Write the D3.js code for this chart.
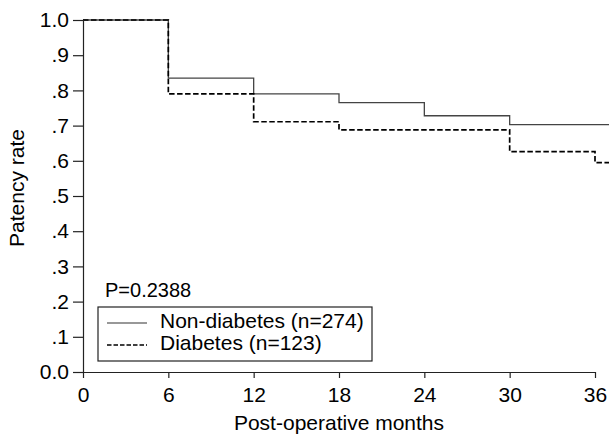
<!DOCTYPE html>
<meta charset="utf-8">
<style>
body { margin: 0; background: #fff; }
svg { font-family: Arial, "Liberation Sans", sans-serif; }
</style>
<svg width="609" height="441"></svg>
<script src="https://d3js.org/d3.v7.min.js"></script>
<script>

var monthTicks = [0, 6, 12, 18, 24, 30, 36];
var rateTicks = [0, .1, .2, .3, .4, .5, .6, .7, .8, .9, 1.0];
var rateLabels = ["0.0", ".1", ".2", ".3", ".4", ".5", ".6", ".7", ".8", ".9", "1.0"];

// step points (month, rate)
var nonDiabetesMonths = [0, 6, 12, 18, 24, 30, 37];
var nonDiabetesRate   = [1.0, .835, .79, .765, .728, .703, .703];
var diabetesMonths = [0, 6, 12, 18, 30, 36, 37];
var diabetesRate   = [1.0, .79, .711, .688, .626, .595, .595];

var pValue = "P=0.2388";
var legendLabels = ["Non-diabetes (n=274)", "Diabetes (n=123)"];

var svg = d3.select("svg"),
    margin = {top: 20, right: 14, bottom: 69, left: 83},
    width = +svg.attr("width"),
    height = +svg.attr("height");

var x = d3.scaleLinear().domain([0, 36]).range([margin.left, 595]);
var y = d3.scaleLinear().domain([0, 1]).range([height - margin.bottom, margin.top]);

var line = d3.line()
    .curve(d3.curveStepAfter)
    .x(function(d) { return x(d[0]); })
    .y(function(d) { return y(d[1]); });

var nonData = d3.zip(nonDiabetesMonths, nonDiabetesRate);
var diaData = d3.zip(diabetesMonths, diabetesRate);

svg.append("path")
    .datum(nonData)
    .attr("fill", "none")
    .attr("stroke", "#444")
    .attr("stroke-width", 1.3)
    .attr("d", line);

svg.append("path")
    .datum(diaData)
    .attr("fill", "none")
    .attr("stroke", "#000")
    .attr("stroke-width", 1.7)
    .attr("stroke-dasharray", "5.5,2.5")
    .attr("d", line);

// axes
var xAxis = svg.append("g")
    .attr("transform", "translate(0," + y(0) + ")")
    .call(d3.axisBottom(x).tickValues(monthTicks).tickSize(6).tickPadding(9).tickSizeOuter(0));
xAxis.selectAll("text").attr("font-size", 21).attr("font-family", "Arial, 'Liberation Sans', sans-serif").attr("fill", "#000");

var yAxis = svg.append("g")
    .attr("transform", "translate(" + x(0) + ",0)")
    .call(d3.axisLeft(y).tickValues(rateTicks).tickFormat(function(d, i) { return rateLabels[i]; })
      .tickSize(10).tickPadding(4).tickSizeOuter(0));
yAxis.selectAll("text").attr("font-size", 21).attr("font-family", "Arial, 'Liberation Sans', sans-serif").attr("fill", "#000");

svg.selectAll(".domain, .tick line").attr("stroke", "#222").attr("stroke-width", 1.2);

svg.append("text")
    .attr("transform", "translate(24,188) rotate(-90)")
    .attr("text-anchor", "middle")
    .attr("font-size", 21)
    .text("Patency rate");

svg.append("text")
    .attr("x", (x(0) + x(36)) / 2)
    .attr("y", 430)
    .attr("text-anchor", "middle")
    .attr("font-size", 21)
    .text("Post-operative months");

// legend
svg.append("text")
    .attr("x", 105)
    .attr("y", 297)
    .attr("font-size", 20)
    .text(pValue);

var lg = svg.append("g").attr("transform", "translate(98,307)");
lg.append("rect")
    .attr("width", 274)
    .attr("height", 54)
    .attr("fill", "none")
    .attr("stroke", "#222")
    .attr("stroke-width", 1.2);

var styles = [{dash: null, color: "#333", w: 1.2}, {dash: "4.5,2", color: "#000", w: 1.5}];
legendLabels.forEach(function(lab, i) {
  lg.append("line")
      .attr("x1", 9).attr("x2", 49)
      .attr("y1", 16 + i * 22).attr("y2", 16 + i * 22)
      .attr("stroke", styles[i].color)
      .attr("stroke-width", styles[i].w)
      .attr("stroke-dasharray", styles[i].dash);
  lg.append("text")
      .attr("x", 62)
      .attr("y", 21 + i * 22)
      .attr("font-size", 21)
      .text(lab);
});

</script>
